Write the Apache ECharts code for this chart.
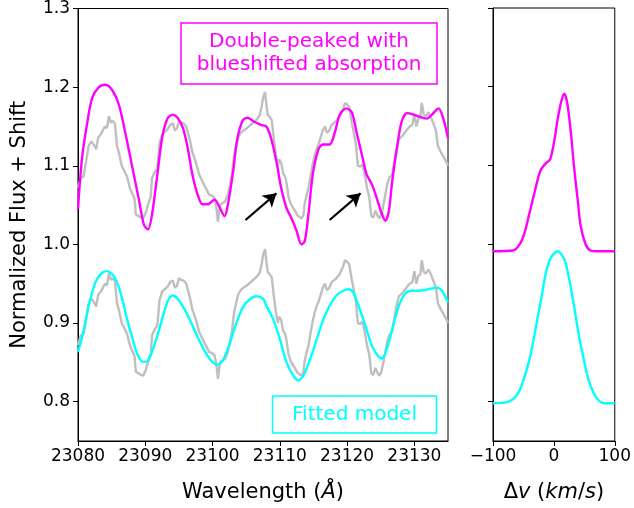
<!DOCTYPE html>
<html>
<head>
<meta charset="utf-8">
<script src="https://cdn.jsdelivr.net/npm/echarts@6/dist/echarts.min.js"></script>
<style>
  html, body { margin: 0; padding: 0; background: #fff; }
  #chart { width: 634px; height: 508px; }
</style>
</head>
<body>
<div id="chart"></div>
<script>
// Tick positions
const wavelengthTicks = [23080, 23090, 23100, 23110, 23120, 23130];
const fluxTicks = [0.8, 0.9, 1.0, 1.1, 1.2, 1.3];
const velocityTicks = [-100, 0, 100];

// Vertical offset applied to the upper copy of the observed spectrum
const upperShift = 0.2;

// Observed spectrum: [wavelength (Å), normalized flux]
const observed = [
  [23080.0,0.872],[23080.4,0.884],[23080.8,0.886],[23081.2,0.905],[23081.6,0.926],[23082.0,0.931],
  [23082.4,0.926],[23082.7,0.921],[23083.0,0.936],[23083.4,0.940],[23083.7,0.945],[23084.0,0.950],
  [23084.3,0.948],[23084.6,0.963],[23084.9,0.955],[23085.2,0.957],[23085.5,0.953],[23085.8,0.925],
  [23086.1,0.916],[23086.5,0.900],[23086.9,0.893],[23087.3,0.886],[23087.7,0.872],[23088.1,0.864],
  [23088.4,0.858],[23088.6,0.838],[23089.0,0.836],[23089.4,0.834],[23089.7,0.833],[23090.1,0.841],
  [23090.5,0.853],[23090.8,0.860],[23091.0,0.884],[23091.4,0.892],[23091.8,0.897],[23092.1,0.928],
  [23092.5,0.940],[23092.9,0.943],[23093.3,0.946],[23093.7,0.952],[23094.1,0.954],[23094.4,0.945],
  [23094.7,0.947],[23095.0,0.957],[23095.3,0.955],[23095.7,0.954],[23096.1,0.950],[23096.4,0.940],
  [23096.7,0.930],[23097.0,0.917],[23097.3,0.910],[23097.6,0.902],[23098.0,0.889],[23098.4,0.882],
  [23098.8,0.875],[23099.1,0.870],[23099.5,0.863],[23099.9,0.862],[23100.3,0.859],[23100.6,0.845],
  [23100.8,0.829],[23101.0,0.843],[23101.2,0.851],[23101.6,0.853],[23101.9,0.855],[23102.3,0.864],
  [23102.6,0.876],[23102.9,0.891],[23103.2,0.913],[23103.5,0.925],[23103.8,0.936],[23104.2,0.942],
  [23104.6,0.945],[23105.0,0.947],[23105.4,0.950],[23105.8,0.953],[23106.2,0.956],[23106.6,0.959],
  [23107.0,0.964],[23107.3,0.975],[23107.5,0.986],[23107.8,0.994],[23108.0,0.978],[23108.2,0.965],
  [23108.5,0.962],[23108.8,0.958],[23109.1,0.935],[23109.4,0.915],[23109.7,0.900],[23109.9,0.908],
  [23110.2,0.904],[23110.5,0.890],[23110.8,0.886],[23111.0,0.878],[23111.3,0.860],[23111.6,0.852],
  [23112.0,0.846],[23112.3,0.842],[23112.6,0.837],[23112.9,0.835],[23113.2,0.833],[23113.5,0.837],
  [23113.7,0.852],[23114.0,0.863],[23114.3,0.873],[23114.6,0.889],[23114.9,0.903],[23115.2,0.914],
  [23115.5,0.922],[23115.8,0.928],[23116.1,0.937],[23116.4,0.945],[23116.7,0.950],[23117.0,0.942],
  [23117.3,0.944],[23117.7,0.952],[23118.0,0.954],[23118.4,0.957],[23118.8,0.961],[23119.1,0.966],
  [23119.4,0.972],[23119.7,0.980],[23120.0,0.978],[23120.3,0.975],[23120.7,0.955],[23121.0,0.942],
  [23121.3,0.928],[23121.6,0.900],[23122.0,0.899],[23122.3,0.902],[23122.7,0.885],[23123.0,0.870],
  [23123.3,0.860],[23123.6,0.836],[23123.9,0.834],[23124.2,0.843],[23124.5,0.837],[23124.8,0.833],
  [23125.1,0.838],[23125.4,0.850],[23125.7,0.864],[23126.0,0.878],[23126.3,0.885],[23126.7,0.889],
  [23127.0,0.905],[23127.3,0.920],[23127.7,0.934],[23128.1,0.937],[23128.5,0.941],[23128.9,0.946],
  [23129.3,0.950],[23129.7,0.952],[23130.0,0.966],[23130.3,0.950],[23130.6,0.960],[23130.9,0.962],
  [23131.1,0.980],[23131.4,0.965],[23131.7,0.963],[23132.1,0.968],[23132.5,0.961],[23132.9,0.952],
  [23133.2,0.945],[23133.5,0.925],[23133.9,0.918],[23134.3,0.912],[23134.7,0.906],[23135.0,0.900]
];

// Double-peaked model with blueshifted absorption (already shifted)
const doublePeakModel = [
  [23080.0,1.045],[23080.6,1.110],[23081.4,1.156],[23082.1,1.186],[23083.1,1.200],[23084.1,1.203],
  [23085.1,1.196],[23086.1,1.177],[23087.1,1.139],[23088.1,1.097],[23089.1,1.055],[23089.8,1.025],
  [23090.4,1.019],[23091.0,1.038],[23091.8,1.089],[23092.5,1.135],[23093.3,1.160],[23094.1,1.165],
  [23094.8,1.161],[23095.6,1.148],[23096.3,1.123],[23097.0,1.089],[23097.8,1.063],[23098.5,1.051],
  [23099.3,1.051],[23100.3,1.057],[23101.0,1.048],[23101.8,1.036],[23102.2,1.047],[23103.0,1.089],
  [23103.7,1.135],[23104.5,1.158],[23105.2,1.161],[23106.2,1.156],[23107.2,1.152],[23108.0,1.150],
  [23108.7,1.135],[23109.5,1.105],[23110.2,1.072],[23111.0,1.046],[23111.7,1.034],[23112.5,1.017],
  [23113.2,1.000],[23113.7,1.004],[23114.2,1.034],[23114.9,1.089],[23115.7,1.120],[23116.4,1.127],
  [23117.4,1.127],[23118.2,1.143],[23118.9,1.165],[23119.9,1.173],[23120.7,1.168],[23121.4,1.143],
  [23122.2,1.114],[23122.9,1.089],[23123.7,1.076],[23124.4,1.059],[23125.2,1.038],[23125.7,1.030],
  [23126.2,1.042],[23126.7,1.080],[23127.4,1.122],[23128.1,1.156],[23128.9,1.167],[23129.9,1.165],
  [23130.9,1.162],[23131.9,1.160],[23132.6,1.165],[23133.6,1.173],[23134.3,1.160],[23135.0,1.135]
];

// Single-Gaussian fitted model
const fittedModel = [
  [23080.0,0.863],[23080.9,0.892],[23081.6,0.922],[23082.6,0.952],[23083.6,0.964],[23084.3,0.966],
  [23085.1,0.962],[23085.8,0.952],[23086.6,0.930],[23087.3,0.905],[23088.1,0.880],[23088.8,0.861],
  [23089.6,0.851],[23090.2,0.851],[23090.8,0.859],[23091.8,0.884],[23092.8,0.914],[23093.4,0.929],
  [23094.1,0.935],[23094.8,0.931],[23095.8,0.918],[23096.8,0.901],[23097.8,0.882],[23098.8,0.865],
  [23099.8,0.852],[23100.7,0.847],[23101.5,0.852],[23102.5,0.873],[23103.5,0.899],[23104.5,0.920],
  [23105.5,0.930],[23106.5,0.934],[23107.5,0.931],[23108.0,0.922],[23109.0,0.905],[23110.0,0.880],
  [23111.0,0.850],[23112.0,0.833],[23112.7,0.827],[23113.5,0.833],[23114.5,0.854],[23115.5,0.880],
  [23116.4,0.903],[23117.4,0.922],[23118.4,0.935],[23119.4,0.941],[23120.2,0.943],[23120.9,0.939],
  [23121.7,0.922],[23122.7,0.897],[23123.7,0.871],[23124.7,0.857],[23125.2,0.855],[23125.9,0.867],
  [23126.7,0.892],[23127.7,0.922],[23128.6,0.937],[23129.6,0.941],[23130.6,0.941],[23131.6,0.942],
  [23132.6,0.944],[23133.4,0.945],[23134.1,0.941],[23135.0,0.926]
];

// Line profiles in velocity space: [Δv (km/s), shifted profile]
const doublePeakProfile = [
  [-100,0.991],[-67,0.992],[-56,1.000],[-48,1.015],[-40,1.040],[-32,1.065],[-26,1.084],[-21,1.095],
  [-13,1.103],[-6,1.108],[1,1.133],[6,1.158],[12,1.181],[17,1.191],[22,1.179],[28,1.141],[33,1.099],
  [39,1.057],[44,1.023],[52,1.000],[60,0.992],[70,0.991],[100,0.991]
];
const fittedProfile = [
  [-100,0.798],[-78,0.799],[-61,0.808],[-51,0.825],[-40,0.854],[-29,0.897],[-21,0.930],[-13,0.964],
  [-5,0.983],[6,0.991],[17,0.981],[25,0.956],[33,0.922],[41,0.884],[50,0.850],[58,0.825],[69,0.806],
  [82,0.798],[100,0.798]
];

// Arrows pointing at the blue-side absorption: [[x0, y0], [x1, y1]]
const arrowSegments = [
  [[23104.9, 1.031], [23109.5, 1.065]],
  [[23117.4, 1.031], [23122.0, 1.065]]
];

const FONT = 'DejaVu Sans';
const MAGENTA = '#ff00ff';
const CYAN = '#00ffff';
const GRAY = '#bfbfbf';

const observedUpper = observed.map(p => [p[0], +(p[1] + upperShift).toFixed(4)]);

function axisBase(extra) {
  return Object.assign({
    type: 'value',
    splitLine: { show: false },
    axisLine: { show: true, onZero: false, lineStyle: { color: '#000', width: 1 } },
    axisTick: { show: true, inside: false, length: 5, lineStyle: { color: '#000', width: 1 } },
    axisLabel: { color: '#000', fontFamily: FONT, fontSize: 17 }
  }, extra);
}

const nameRich = {
  t: { fontFamily: FONT, fontSize: 21, color: '#000' },
  i: { fontFamily: FONT, fontSize: 21, fontStyle: 'italic', color: '#000' }
};

const chart = echarts.init(document.getElementById('chart'), null, { renderer: 'canvas' });

chart.setOption({
  animation: false,
  backgroundColor: '#fff',
  textStyle: { fontFamily: FONT },
  grid: [
    { left: 78, top: 8, width: 370, height: 436, show: true, borderColor: '#000', borderWidth: 1, backgroundColor: 'transparent' },
    { left: 493, top: 8, width: 123, height: 436, show: true, borderColor: '#000', borderWidth: 1, backgroundColor: 'transparent' }
  ],
  xAxis: [
    axisBase({
      gridIndex: 0, min: 23080, max: 23135,
      axisTick: { show: true, length: 5, customValues: wavelengthTicks, lineStyle: { color: '#000' } },
      axisLabel: {
        color: '#000', fontFamily: FONT, fontSize: 17, margin: 7, customValues: wavelengthTicks,
        formatter: v => String(v)
      },
      name: '{t|Wavelength (}{i|Å}{t|)}',
      nameLocation: 'middle', nameGap: 41,
      nameTextStyle: { rich: nameRich }
    }),
    axisBase({
      gridIndex: 1, min: -100, max: 100,
      axisTick: { show: true, length: 5, customValues: velocityTicks, lineStyle: { color: '#000' } },
      axisLabel: {
        color: '#000', fontFamily: FONT, fontSize: 17, margin: 7, customValues: velocityTicks,
        formatter: v => String(v).replace('-', '\u2212')
      },
      name: '{t|Δ}{i|v}{t| (}{i|km}{t|/}{i|s}{t|)}',
      nameLocation: 'middle', nameGap: 41,
      nameTextStyle: { rich: nameRich }
    })
  ],
  yAxis: [
    axisBase({
      gridIndex: 0, min: 0.75, max: 1.3,
      axisTick: { show: true, length: 5, customValues: fluxTicks, lineStyle: { color: '#000' } },
      axisLabel: {
        color: '#000', fontFamily: FONT, fontSize: 17, margin: 8, customValues: fluxTicks,
        formatter: v => v.toFixed(1)
      },
      name: 'Normalized Flux + Shift',
      nameLocation: 'middle', nameGap: 48, nameRotate: 90,
      nameTextStyle: { fontFamily: FONT, fontSize: 21, color: '#000' }
    }),
    axisBase({
      gridIndex: 1, min: 0.75, max: 1.3,
      axisTick: { show: true, length: 5, customValues: fluxTicks, lineStyle: { color: '#000' } },
      axisLabel: { show: false, customValues: fluxTicks }
    })
  ],
  series: [
    {
      type: 'line', xAxisIndex: 0, yAxisIndex: 0, data: observedUpper,
      showSymbol: false, lineStyle: { color: GRAY, width: 2.4 }, z: 2
    },
    {
      type: 'line', xAxisIndex: 0, yAxisIndex: 0, data: observed,
      showSymbol: false, lineStyle: { color: GRAY, width: 2.4 }, z: 2
    },
    {
      type: 'line', xAxisIndex: 0, yAxisIndex: 0, data: doublePeakModel,
      showSymbol: false, smooth: 0.3,
      lineStyle: { color: MAGENTA, width: 2.4 }, z: 3,
      markLine: {
        silent: true, symbol: ['none', 'arrow'], symbolSize: [12, 13],
        label: { show: false },
        lineStyle: { color: '#000', width: 2.2, type: 'solid' },
        data: arrowSegments.map(s => [{ coord: s[0] }, { coord: s[1] }])
      }
    },
    {
      type: 'line', xAxisIndex: 0, yAxisIndex: 0, data: fittedModel,
      showSymbol: false, smooth: 0.3,
      lineStyle: { color: CYAN, width: 2.4 }, z: 3
    },
    {
      type: 'line', xAxisIndex: 1, yAxisIndex: 1, data: doublePeakProfile,
      showSymbol: false, smooth: 0.3,
      lineStyle: { color: MAGENTA, width: 2.4 }
    },
    {
      type: 'line', xAxisIndex: 1, yAxisIndex: 1, data: fittedProfile,
      showSymbol: false, smooth: 0.3,
      lineStyle: { color: CYAN, width: 2.4 }
    }
  ],
  graphic: [
    {
      type: 'rect', z: 10,
      shape: { x: 181, y: 23, width: 256, height: 61 },
      style: { fill: '#fff', stroke: MAGENTA, lineWidth: 1.5 }
    },
    {
      type: 'text', z: 11, x: 309, y: 53.5,
      style: {
        text: 'Double-peaked with\nblueshifted absorption',
        fill: MAGENTA, font: '20px "DejaVu Sans"', align: 'center', verticalAlign: 'middle',
        lineHeight: 23
      }
    },
    {
      type: 'rect', z: 10,
      shape: { x: 272.5, y: 396, width: 164, height: 37 },
      style: { fill: '#fff', stroke: CYAN, lineWidth: 1.5 }
    },
    {
      type: 'text', z: 11, x: 354.5, y: 414.5,
      style: {
        text: 'Fitted model',
        fill: CYAN, font: '20px "DejaVu Sans"', align: 'center', verticalAlign: 'middle'
      }
    }
  ]
});
</script>
</body>
</html>
